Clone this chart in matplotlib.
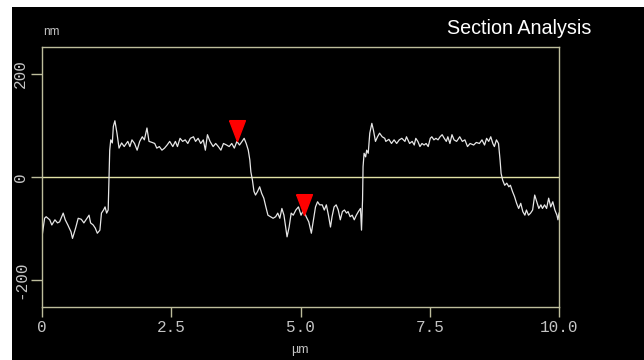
import matplotlib
matplotlib.use("Agg")
import matplotlib.pyplot as plt
from matplotlib.patches import Rectangle

# ---- data ----
x_um = [0.00, 0.05, 0.08, 0.15, 0.19, 0.25, 0.30, 0.34, 0.41, 0.45, 0.50, 0.56, 0.59, 0.65, 0.70,
        0.76, 0.81, 0.87, 0.91, 0.94, 0.99, 1.03, 1.07, 1.12, 1.15, 1.19, 1.22, 1.25, 1.28, 1.29,
        1.31, 1.33, 1.36, 1.38, 1.41, 1.45, 1.49, 1.54, 1.59, 1.61, 1.66, 1.70, 1.74, 1.79, 1.84,
        1.89, 1.94, 1.98, 2.03, 2.07, 2.13, 2.18, 2.22, 2.27, 2.32, 2.37, 2.42, 2.47, 2.53, 2.58,
        2.62, 2.67, 2.72, 2.77, 2.82, 2.87, 2.93, 2.97, 3.02, 3.07, 3.12, 3.16, 3.20, 3.25, 3.31,
        3.36, 3.41, 3.46, 3.51, 3.57, 3.62, 3.67, 3.72, 3.77, 3.82, 3.87, 3.91, 3.95, 3.99, 4.02,
        4.04, 4.07, 4.10, 4.13, 4.17, 4.21, 4.25, 4.29, 4.33, 4.37, 4.42, 4.47, 4.52, 4.56, 4.60,
        4.64, 4.68, 4.72, 4.74, 4.78, 4.82, 4.86, 4.91, 4.96, 5.01, 5.06, 5.11, 5.16, 5.21, 5.25,
        5.29, 5.33, 5.37, 5.42, 5.46, 5.50, 5.54, 5.58, 5.61, 5.65, 5.69, 5.73, 5.77, 5.81, 5.85,
        5.89, 5.92, 5.96, 6.00, 6.04, 6.08, 6.12, 6.16, 6.18, 6.20, 6.21, 6.23, 6.26, 6.28, 6.31,
        6.34, 6.38, 6.41, 6.45, 6.49, 6.53, 6.58, 6.63, 6.65, 6.71, 6.76, 6.81, 6.86, 6.91, 6.96,
        7.02, 7.05, 7.11, 7.16, 7.20, 7.23, 7.27, 7.31, 7.35, 7.39, 7.43, 7.47, 7.51, 7.54, 7.58,
        7.62, 7.66, 7.70, 7.74, 7.78, 7.82, 7.85, 7.89, 7.93, 7.97, 8.02, 8.08, 8.13, 8.18, 8.23,
        8.28, 8.35, 8.40, 8.46, 8.51, 8.56, 8.60, 8.64, 8.68, 8.72, 8.75, 8.79, 8.83, 8.86, 8.88,
        8.91, 8.95, 8.99, 9.03, 9.06, 9.10, 9.14, 9.18, 9.22, 9.26, 9.30, 9.34, 9.37, 9.41, 9.45,
        9.49, 9.53, 9.57, 9.61, 9.65, 9.68, 9.72, 9.76, 9.80, 9.84, 9.88, 9.92, 9.96, 9.98, 10.00]
height_nm = [-116, -80, -77, -83, -93, -83, -89, -87, -70, -83, -93, -106, -119, -99, -80,
             -82, -89, -80, -74, -89, -93, -99, -109, -103, -70, -64, -58, -70, -64, -25,
             52, 72, 66, 98, 109, 85, 56, 66, 59, 62, 69, 59, 72, 65, 52,
             69, 78, 72, 95, 69, 67, 65, 56, 59, 52, 56, 62, 69, 59, 69,
             59, 75, 69, 72, 65, 75, 78, 69, 75, 65, 72, 52, 82, 69, 59,
             65, 59, 52, 65, 62, 59, 65, 56, 69, 62, 69, 75, 65, 52, 33,
             10, -6, -28, -35, -28, -19, -32, -41, -58, -74, -77, -80, -77, -70, -80,
             -61, -74, -103, -116, -97, -70, -74, -64, -58, -74, -64, -77, -87, -109, -83,
             -58, -48, -54, -54, -64, -54, -74, -97, -77, -58, -54, -64, -83, -67, -64,
             -70, -67, -77, -74, -83, -74, -67, -61, -103, -45, 20, 46, 39, 52, 46,
             85, 104, 91, 69, 78, 85, 78, 75, 69, 73, 65, 72, 65, 72, 75,
             69, 78, 65, 69, 62, 75, 69, 59, 65, 62, 65, 59, 75, 78, 72,
             75, 72, 78, 82, 75, 69, 78, 65, 82, 72, 69, 78, 69, 72, 59,
             65, 62, 67, 65, 72, 62, 75, 69, 78, 65, 59, 72, 65, 33, 7,
             -6, -16, -12, -19, -16, -28, -38, -51, -61, -51, -67, -74, -64, -74, -70,
             -64, -35, -48, -61, -54, -61, -54, -61, -41, -58, -48, -64, -74, -83, -70]
cursor_x = [3.78, 5.06]
cursor_y = [69, -74]
x_ticks = [0, 2.5, 5.0, 7.5, 10.0]
x_tick_labels = ["0", "2.5", "5.0", "7.5", "10.0"]
y_ticks = [-200, 0, 200]
y_tick_labels = ["-200", "0", "200"]

W, H = 644, 360
fig = plt.figure(figsize=(W / 100, H / 100), dpi=100, facecolor="white")
# black panel (white margin at left and top)
fig.patches.append(Rectangle((12 / W, 0), 1 - 12 / W, 1 - 7 / H, transform=fig.transFigure,
                             facecolor="black", edgecolor="none", zorder=-10))

box_col = "#bdbd9c"
zero_col = "#e2e2a6"
txt_col = "#c4c4c4"

ax = fig.add_axes([42 / W, 1 - 307 / H, (559 - 42) / W, (307 - 47) / H])
ax.set_zorder(1)
ax.set_facecolor("black")
for s in ax.spines.values():
    s.set_color(box_col)
    s.set_linewidth(1.0)

ax.axhline(0, color=zero_col, lw=1.0, zorder=1)
ax.plot(x_um, height_nm, color="#e6e6e6", lw=0.9, zorder=2)

# red cursor triangles (tip at the data point)
tri = [(-0.38, 1.0), (0.38, 1.0), (0.0, 0.0), (-0.38, 1.0)]
ax.plot(cursor_x, cursor_y, linestyle="none", marker=tri, markersize=30,
        markerfacecolor="#ff0000", markeredgecolor="#ff0000", zorder=3)

ax.set_xlim(0, 10)
ax.set_ylim(-252, 252)
ax.set_xticks(x_ticks)
ax.set_xticklabels(x_tick_labels)
ax.set_yticks(y_ticks)
ax.set_yticklabels(y_tick_labels)

mono = "Liberation Mono"
ax.tick_params(axis="x", direction="out", length=7, width=1, color=box_col,
               labelcolor=txt_col, labelsize=11.5, pad=2)
ax.tick_params(axis="y", direction="out", length=8, width=1, color=box_col,
               labelcolor=txt_col, labelsize=11.5, pad=2, labelrotation=90)
for lab in ax.get_xticklabels() + ax.get_yticklabels():
    lab.set_fontfamily(mono)
for lab in ax.get_yticklabels():
    lab.set_verticalalignment("center")

fig.text(300 / W, 1 - 350 / H, "µm", color=txt_col, fontsize=9, family="Liberation Sans",
         ha="center", va="center")
fig.text(43 / W, 1 - 32 / H, "nm", color=txt_col, fontsize=8.5, family="Liberation Sans",
         ha="left", va="center")
fig.text(447 / W, 1 - 29 / H, "Section Analysis", color="white", fontsize=14.2,
         family="Liberation Sans", ha="left", va="center")

fig.savefig("out.png", dpi=100, facecolor=fig.get_facecolor())
